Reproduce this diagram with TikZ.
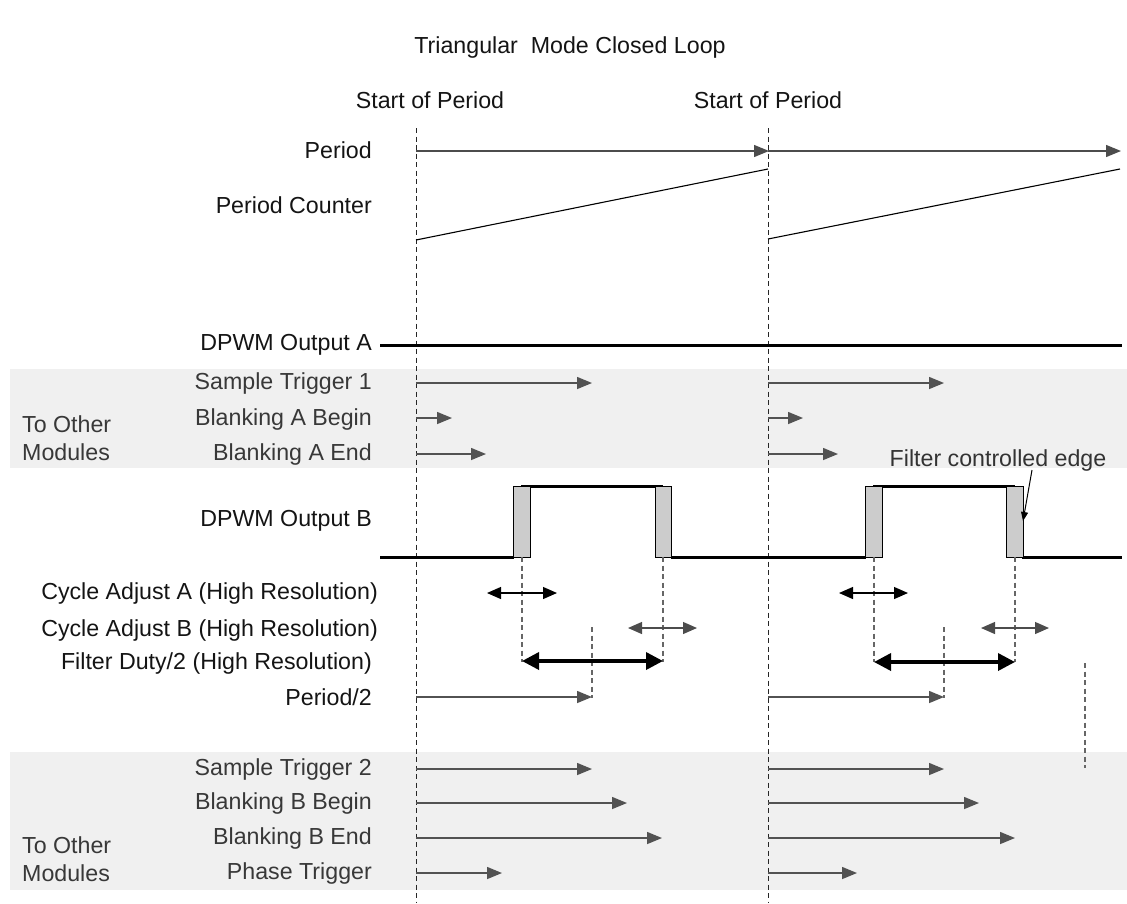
\documentclass[tikz,border=0pt]{standalone}
\usepackage{fontspec}
\setmainfont{Liberation Sans}
\usetikzlibrary{arrows.meta}
\begin{document}
\begin{tikzpicture}[x=1pt,y=-1pt,
  lbl/.style={anchor=east, inner sep=0pt, font=\fontsize{23.2}{27}\selectfont, text=black!92},
  glbl/.style={lbl, text=black!78},
  tlbl/.style={inner sep=0pt, font=\fontsize{23.2}{27}\selectfont, text=black!92},
  band/.style={fill=black!6, draw=none},
  vdash/.style={draw=black!85, line width=0.9pt, dash pattern=on 5pt off 3.5pt},
  gdash/.style={draw=black!60, line width=1.1pt, dash pattern=on 5pt off 3.5pt},
  per/.style={draw=black!70, line width=1.3pt, -{Triangle[length=15pt,width=12pt]}, shorten >=-1pt},
  ramp/.style={draw=black, line width=1.1pt},
  sig/.style={draw=black!68, line width=1.5pt, -{Triangle[length=15pt,width=12pt]}},
  dbl/.style={draw=black, line width=1.2pt, {Triangle[length=14pt,width=12pt]}-{Triangle[length=14pt,width=12pt]}},
  gdbl/.style={draw=black!70, line width=1.2pt, {Triangle[length=14pt,width=12pt]}-{Triangle[length=14pt,width=12pt]}},
  thick dbl/.style={draw=black, line width=3.5pt, {Triangle[length=17pt,width=17pt]}-{Triangle[length=17pt,width=17pt]}},
  wave/.style={draw=black, line width=3pt},
  edgebox/.style={fill=black!20, draw=black, line width=1pt},
  pointer/.style={draw=black, line width=1pt, -{Triangle[length=9pt,width=7pt]}}
]
\useasboundingbox (0,0) rectangle (1127,903);

% shaded bands
\fill[band] (10,369) rectangle (1127,468);
\fill[band] (10,752) rectangle (1127,890);

% title and period headers
\node[tlbl] (title) at (570,47) {Triangular\ \ Mode Closed Loop};
\node[tlbl] (sop1) at (430,100) {Start of Period};
\node[tlbl] (sop2) at (768,100) {Start of Period};

% period boundaries
\coordinate (v1t) at (416,128); \coordinate (v1b) at (416,903);
\coordinate (v2t) at (768,128); \coordinate (v2b) at (768,903);
\draw[vdash] (v1t) -- (v1b);
\draw[vdash] (v2t) -- (v2b);

% Period
\node[lbl] (lper) at (372,150) {Period};
\coordinate (p0) at (416,151); \coordinate (p1) at (768,151); \coordinate (p2) at (1120,151);
\draw[per] (p0) -- (p1);
\draw[per] (p1) -- (p2);

% Period counter
\node[lbl] (lpc) at (372,205) {Period Counter};
\draw[ramp] (416,240) -- (768,169);
\draw[ramp] (768,239) -- (1120,169);

% DPWM Output A
\node[lbl] (la) at (372,345) {DPWM Output A};
\coordinate (a0) at (380,345); \coordinate (a1) at (1122,345);
\draw[wave] (a0) -- (a1);

% band 1
\node[anchor=west, inner sep=0pt, align=left, font=\fontsize{23.2}{28}\selectfont, text=black!78] (tom1) at (22,438) {To Other\\Modules};
\node[glbl] (lst1) at (372,383) {Sample Trigger 1};
\node[glbl] (lbab) at (372,419) {Blanking A Begin};
\node[glbl] (lbae) at (372,454) {Blanking A End};
\draw[sig] (416,383) -- (592,383);
\draw[sig] (768,383) -- (944,383);
\draw[sig] (416,418) -- (452,418);
\draw[sig] (768,418) -- (803,418);
\draw[sig] (416,454) -- (486,454);
\draw[sig] (768,454) -- (838,454);

% DPWM Output B
\node[lbl] (lb) at (372,521) {DPWM Output B};
\draw[wave] (380,557) -- (514,557);
\draw[wave] (521,486) -- (663,486);
\draw[wave] (671,557) -- (866,557);
\draw[wave] (873,486) -- (1015,486);
\draw[wave] (1022,557) -- (1122,557);
\draw[edgebox] (513,486) rectangle (530,557);
\draw[edgebox] (655,486) rectangle (671,557);
\draw[edgebox] (865,486) rectangle (882,557);
\draw[edgebox] (1006,486) rectangle (1023,557);

% Filter controlled edge
\node[tlbl, text=black!80] (fce) at (998,460) {Filter controlled edge};
\coordinate (fcetip) at (1023,521);
\draw[pointer] (1032,470) -- (fcetip);

% dashed projections
\draw[gdash] (522,557) -- (522,662);
\draw[gdash] (663,557) -- (663,662);
\draw[gdash] (874,557) -- (874,662);
\draw[gdash] (1015,557) -- (1015,662);
\draw[gdash] (592,627) -- (592,698);
\draw[gdash] (944,627) -- (944,698);
\draw[gdash] (1085,663) -- (1085,768);

% Cycle adjust / filter duty / period/2
\node[lbl] (lcaa) at (378,593) {Cycle Adjust A (High Resolution)};
\node[lbl] (lcab) at (378,630) {Cycle Adjust B (High Resolution)};
\node[lbl] (lfd) at (372,663) {Filter Duty/2 (High Resolution)};
\node[lbl] (lp2) at (372,697) {Period/2};
\draw[dbl] (487,593) -- (557,593);
\draw[dbl] (839,593) -- (908,593);
\draw[gdbl] (628,628) -- (697,628);
\draw[gdbl] (981,628) -- (1049,628);
\draw[thick dbl] (522,661) -- (663,661);
\draw[thick dbl] (874,662) -- (1015,662);
\draw[sig] (416,697) -- (592,697);
\draw[sig] (768,697) -- (944,697);

% band 2
\node[anchor=west, inner sep=0pt, align=left, font=\fontsize{23.2}{28}\selectfont, text=black!78] (tom2) at (22,859) {To Other\\Modules};
\node[glbl] (lst2) at (372,769) {Sample Trigger 2};
\node[glbl] (lbbb) at (372,803) {Blanking B Begin};
\node[glbl] (lbbe) at (372,838) {Blanking B End};
\node[glbl] (lpt) at (372,873) {Phase Trigger};
\draw[sig] (416,769) -- (592,769);
\draw[sig] (768,769) -- (944,769);
\draw[sig] (416,803) -- (627,803);
\draw[sig] (768,803) -- (979,803);
\draw[sig] (416,838) -- (662,838);
\draw[sig] (768,838) -- (1015,838);
\draw[sig] (416,873) -- (502,873);
\draw[sig] (768,873) -- (857,873);
\end{tikzpicture}
\end{document}
